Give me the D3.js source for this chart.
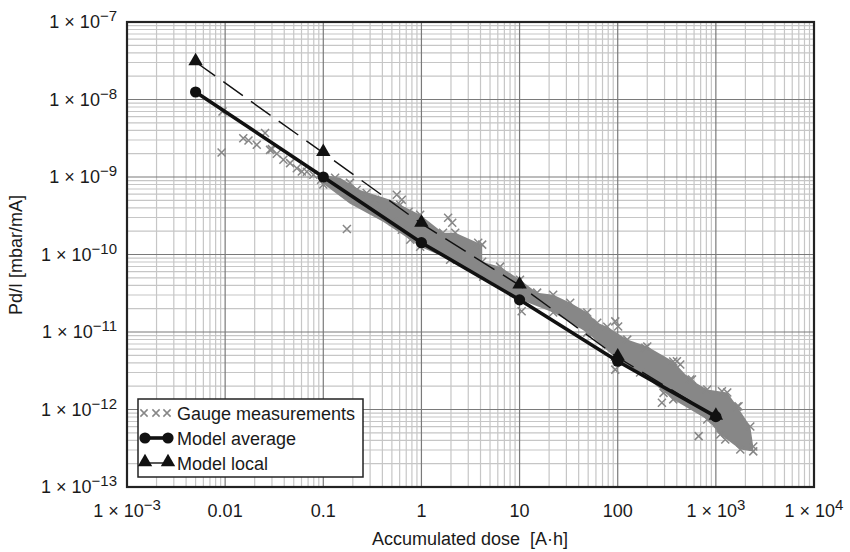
<!DOCTYPE html>
<html>
<head>
<meta charset="utf-8">
<script src="https://cdn.jsdelivr.net/npm/d3@7/dist/d3.min.js"></script>
<style>
  html, body { margin: 0; padding: 0; background: #fff; }
  svg { display: block; }
  text { font-family: "Liberation Sans", Arial, Helvetica, sans-serif; fill: #1a1a1a; }
</style>
</head>
<body>
<svg id="chart" width="850" height="552"></svg>
<script>
// ---------------- DATA ----------------
const xTickValues = [1e-3, 1e-2, 1e-1, 1, 10, 100, 1e3, 1e4];
const xTickLabels = [["1 × 10", "−3"], ["0.01", ""], ["0.1", ""], ["1", ""], ["10", ""], ["100", ""], ["1 × 10", "3"], ["1 × 10", "4"]];
const yTickValues = [1e-7, 1e-8, 1e-9, 1e-10, 1e-11, 1e-12, 1e-13];
const yTickLabels = [["1 × 10", "−7"], ["1 × 10", "−8"], ["1 × 10", "−9"], ["1 × 10", "−10"], ["1 × 10", "−11"], ["1 × 10", "−12"], ["1 × 10", "−13"]];

const seriesNames = ["Gauge measurements", "Model average", "Model local"];

// model curves (accumulated dose in A·h, Pd/I in mbar/mA)
const modelDose = [0.005, 0.1, 1, 10, 100, 1000];
const modelAverage = [1.25e-8, 1.0e-9, 1.42e-10, 2.6e-11, 4.2e-12, 8.1e-13];
const modelLocal = [3.05e-8, 2.05e-9, 2.5e-10, 4.0e-11, 4.7e-12, 8.1e-13];

// dense cloud of gauge measurements: upper and lower edge of the solid grey band
const bandUpperDose = [0.1, 0.148, 0.237, 0.48, 0.607, 0.97, 1.66, 2.21, 4.16, 4.16, 6.34, 10.1, 15.1, 22.0, 32.8, 48.9, 61.8, 78.2, 125, 200, 368, 548, 817, 1306, 1652, 2244, 2405];
const bandUpperValue = [1.07e-9, 9.8e-10, 6.8e-10, 5.1e-10, 4.39e-10, 3.26e-10, 1.91e-10, 1.91e-10, 1.34e-10, 8.07e-11, 6.97e-11, 4.73e-11, 3.22e-11, 3.03e-11, 2.39e-11, 1.78e-11, 1.32e-11, 1.17e-11, 7.98e-12, 6.49e-12, 4.16e-12, 2.44e-12, 1.81e-12, 1.66e-12, 1.09e-12, 6.04e-13, 3.33e-13];
const bandLowerDose = [0.1, 0.187, 0.407, 0.77, 0.97, 1.96, 4.26, 10.1, 22.0, 48.9, 98.9, 169, 368, 817, 1109, 1774, 2405];
const bandLowerValue = [8.17e-10, 4.52e-10, 2.65e-10, 1.55e-10, 1.26e-10, 8.57e-11, 5.18e-11, 2.62e-11, 1.78e-11, 9.82e-12, 4.41e-12, 3.0e-12, 1.35e-12, 7.43e-13, 4.77e-13, 3.05e-13, 2.88e-13];

// individual gauge measurements (sparse ones and outliers)
const gaugeDose = [0.0094, 0.0092, 0.0153, 0.0173, 0.021, 0.0255, 0.0287, 0.0299, 0.0336, 0.0392, 0.0459, 0.0537, 0.0604, 0.068, 0.0793, 0.095, 0.1,
  0.132, 0.187, 0.219, 0.277, 0.337, 0.561, 0.631, 0.74, 0.407, 0.515, 0.631, 0.174,
  1.87, 2.06, 3.79, 10.5, 94.4, 101, 191, 94.4, 401, 434, 293, 282, 667, 1703, 1247, 571, 1153];
const gaugeValue = [7.0e-9, 2.07e-9, 3.17e-9, 2.95e-9, 2.6e-9, 3.7e-9, 2.24e-9, 2.29e-9, 2.0e-9, 1.67e-9, 1.51e-9, 1.30e-9, 1.18e-9, 1.17e-9, 1.07e-9, 9.2e-10, 8.0e-10,
  9.8e-10, 8.4e-10, 6.84e-10, 6.2e-10, 5.08e-10, 5.9e-10, 5.08e-10, 3.56e-10, 3.46e-10, 2.65e-10, 2.09e-10, 2.13e-10,
  2.98e-10, 2.57e-10, 1.42e-10, 1.85e-11, 1.37e-11, 1.18e-11, 6.24e-12, 3.27e-12, 4.19e-12, 3.8e-12, 1.64e-12, 1.22e-12, 4.53e-13, 1.10e-12, 4.1e-13, 2.44e-12, 1.72e-12];

// ---------------- CHART ----------------
const svg = d3.select("#chart");
const L = 127, R = 814, T = 22, B = 487;
const x = d3.scaleLog().domain([1e-3, 1e4]).range([L, R]);
const y = d3.scaleLog().domain([1e-13, 1e-7]).range([B, T]);

const GREY = "#878787";

// grid
const grid = svg.append("g");
const minorX = [], minorY = [];
for (let d = -3; d < 4; d++) for (let k = 2; k <= 9; k++) minorX.push(k * Math.pow(10, d));
for (let d = -13; d < -7; d++) for (let k = 2; k <= 9; k++) minorY.push(k * Math.pow(10, d));
grid.selectAll(".mx").data(minorX).join("line")
  .attr("x1", d => x(d)).attr("x2", d => x(d)).attr("y1", T).attr("y2", B)
  .attr("stroke", "#c6c6c6").attr("stroke-width", 1.2);
grid.selectAll(".my").data(minorY).join("line")
  .attr("x1", L).attr("x2", R).attr("y1", d => y(d)).attr("y2", d => y(d))
  .attr("stroke", "#c6c6c6").attr("stroke-width", 1.2);
grid.selectAll(".Mx").data(xTickValues).join("line")
  .attr("x1", d => x(d)).attr("x2", d => x(d)).attr("y1", T).attr("y2", B)
  .attr("stroke", "#7a7a7a").attr("stroke-width", 1.2);
grid.selectAll(".My").data(yTickValues).join("line")
  .attr("x1", L).attr("x2", R).attr("y1", d => y(d)).attr("y2", d => y(d))
  .attr("stroke", "#7a7a7a").attr("stroke-width", 1.2);

// band
const bandPts = bandUpperDose.map((d, i) => [d, bandUpperValue[i]])
  .concat(bandLowerDose.map((d, i) => [d, bandLowerValue[i]]).reverse());
svg.append("path")
  .attr("d", d3.line().x(d => x(d[0])).y(d => y(d[1])).curve(d3.curveLinearClosed)(bandPts))
  .attr("fill", GREY);

// crosses
function cross(g, cx, cy, s) {
  g.append("path").attr("d", `M${cx - s},${cy - s}L${cx + s},${cy + s}M${cx - s},${cy + s}L${cx + s},${cy - s}`)
    .attr("stroke", GREY).attr("stroke-width", 1.5).attr("fill", "none");
}
const cg = svg.append("g");
gaugeDose.forEach((d, i) => cross(cg, x(d), y(gaugeValue[i]), 4));
bandUpperDose.forEach((d, i) => { if (d > 0.5) cross(cg, x(d), y(bandUpperValue[i]), 4); });
bandLowerDose.forEach((d, i) => { if (d > 0.5) cross(cg, x(d), y(bandLowerValue[i]), 4); });

// model local (dashed)
const lineGen = d3.line().x(d => x(d[0])).y(d => y(d[1]));
const localPts = modelDose.map((d, i) => [d, modelLocal[i]]);
svg.append("path").attr("d", lineGen(localPts)).attr("fill", "none")
  .attr("stroke", "#111").attr("stroke-width", 1.4).attr("stroke-dasharray", "24,10");
const tri = d3.symbol().type(d3.symbolTriangle).size(90);
svg.selectAll(".tri").data(localPts).join("path")
  .attr("d", tri).attr("transform", d => `translate(${x(d[0])},${y(d[1]) - 1})`).attr("fill", "#111");

// model average (thick)
const avgPts = modelDose.map((d, i) => [d, modelAverage[i]]);
svg.append("path").attr("d", lineGen(avgPts)).attr("fill", "none")
  .attr("stroke", "#111").attr("stroke-width", 3.6);
svg.selectAll(".circ").data(avgPts).join("circle")
  .attr("cx", d => x(d[0])).attr("cy", d => y(d[1])).attr("r", 5.6).attr("fill", "#111");

// frame
svg.append("rect").attr("x", L).attr("y", T).attr("width", R - L).attr("height", B - T)
  .attr("fill", "none").attr("stroke", "#222").attr("stroke-width", 2.2);

// tick labels
const FS = 18, SUP = 15;
svg.selectAll(".xt").data(xTickValues).join("text")
  .attr("x", d => x(d)).attr("y", 517).attr("text-anchor", "middle").attr("font-size", FS)
  .each(function (d, i) {
    const t = d3.select(this);
    t.append("tspan").text(xTickLabels[i][0]);
    if (xTickLabels[i][1]) t.append("tspan").attr("dy", -7).attr("font-size", SUP).text(xTickLabels[i][1]);
  });
svg.selectAll(".yt").data(yTickValues).join("text")
  .attr("x", 117).attr("y", d => y(d) + 6).attr("text-anchor", "end").attr("font-size", FS)
  .each(function (d, i) {
    const t = d3.select(this);
    t.append("tspan").text(yTickLabels[i][0]);
    t.append("tspan").attr("dy", -7).attr("font-size", SUP).text(yTickLabels[i][1]);
  });

// axis titles
svg.append("text").attr("x", 470).attr("y", 545).attr("text-anchor", "middle").attr("font-size", 18)
  .attr("xml:space", "preserve").text("Accumulated dose  [A·h]");
svg.append("text").attr("transform", "translate(22,255) rotate(-90)").attr("text-anchor", "middle")
  .attr("font-size", 18).text("Pd/I [mbar/mA]");

// legend
const lg = svg.append("g");
lg.append("rect").attr("x", 138).attr("y", 399).attr("width", 225).attr("height", 78)
  .attr("fill", "#fff").attr("stroke", "#222").attr("stroke-width", 1.5);
const rows = [413, 438, 463];
[144, 156, 167].forEach(cx => cross(lg, cx, rows[0], 3.6));
lg.append("line").attr("x1", 145).attr("x2", 168).attr("y1", rows[1]).attr("y2", rows[1]).attr("stroke", "#111").attr("stroke-width", 3.6);
[145, 168].forEach(cx => lg.append("circle").attr("cx", cx).attr("cy", rows[1]).attr("r", 5.6).attr("fill", "#111"));
lg.append("line").attr("x1", 145).attr("x2", 168).attr("y1", rows[2]).attr("y2", rows[2]).attr("stroke", "#111").attr("stroke-width", 1.4);
[145, 168].forEach(cx => lg.append("path").attr("d", tri).attr("transform", `translate(${cx},${rows[2] - 1})`).attr("fill", "#111"));
seriesNames.forEach((n, i) => lg.append("text").attr("x", 177).attr("y", rows[i] + 6.5).attr("font-size", 18).text(n));
</script>
</body>
</html>
